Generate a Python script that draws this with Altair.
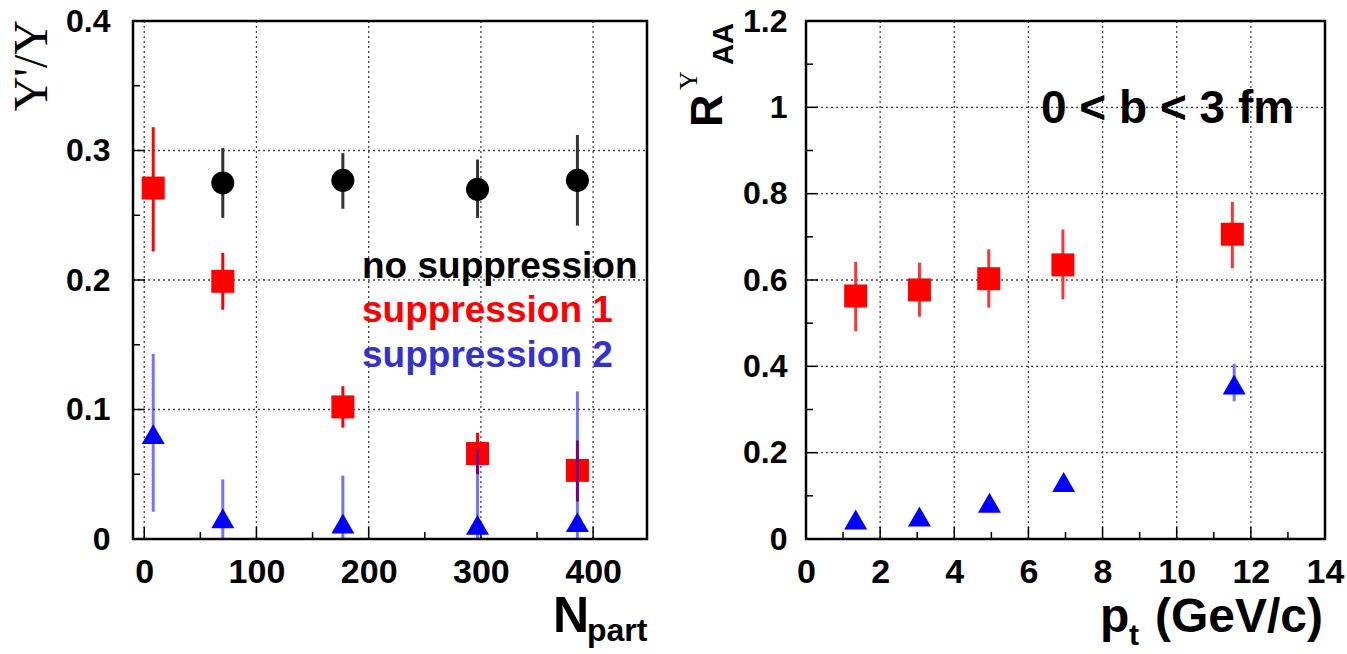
import altair as alt
import pandas as pd

# ---------------- data: left panel (Upsilon'/Upsilon vs N_part) ----------------
npart_black = [70, 177, 297, 386]
ratio_black = [0.275, 0.277, 0.270, 0.277]
ratio_black_lo = [0.248, 0.255, 0.248, 0.242]
ratio_black_hi = [0.302, 0.298, 0.293, 0.312]

npart_red = [8, 70, 177, 297, 386]
ratio_red = [0.271, 0.199, 0.102, 0.066, 0.053]
ratio_red_lo = [0.222, 0.177, 0.086, 0.050, 0.029]
ratio_red_hi = [0.318, 0.221, 0.118, 0.082, 0.076]

npart_blue = [8, 70, 177, 297, 386]
ratio_blue = [0.081, 0.016, 0.012, 0.011, 0.013]
ratio_blue_lo = [0.021, 0.0, 0.0, 0.0, 0.0]
ratio_blue_hi = [0.143, 0.046, 0.049, 0.069, 0.114]

# ---------------- data: right panel (R_AA vs p_t) ----------------
pt_red = [1.34, 3.06, 4.93, 6.93, 11.5]
raa_red = [0.563, 0.577, 0.603, 0.635, 0.706]
raa_red_lo = [0.481, 0.515, 0.536, 0.555, 0.627]
raa_red_hi = [0.642, 0.640, 0.671, 0.717, 0.781]

pt_blue = [1.34, 3.06, 4.95, 6.95, 11.55]
raa_blue = [0.045, 0.052, 0.084, 0.132, 0.358]
raa_blue_lo = [0.040, 0.047, 0.077, 0.122, 0.319]
raa_blue_hi = [0.050, 0.057, 0.091, 0.142, 0.406]

# axis ticks
left_x_major = [0, 100, 200, 300, 400]
left_x_minor = [50, 150, 250, 350]
left_y_major = [0, 0.1, 0.2, 0.3, 0.4]
left_y_minor = [0.05, 0.15, 0.25, 0.35]
right_x_major = [0, 2, 4, 6, 8, 10, 12, 14]
right_x_minor = [1, 3, 5, 7, 9, 11, 13]
right_y_major = [0, 0.2, 0.4, 0.6, 0.8, 1.0, 1.2]
right_y_minor = [0.1, 0.3, 0.5, 0.7, 0.9, 1.1]

# ---------------- layout constants (pixels inside the plot group) ----------------
W, H = 1192, 518
L0, L1 = 0, 514      # left panel x range
R0, R1 = 673, 1192   # right panel x range
FONT = "Liberation Sans"
GRID_DASH = [2, 3]
GRID_COL = "#444444"


def df(x, y, lo, hi):
    return pd.DataFrame({"x": x, "y": y, "lo": lo, "hi": hi})


def vals(v):
    return pd.DataFrame({"v": v})


def make_panel(xs, ys, xax, yax, series, xmaj, xmin_, ymaj, ymin_, p0, p1):
    X = lambda f: alt.X(f, scale=xs, axis=xax)
    Y = lambda f: alt.Y(f, scale=ys, axis=yax)
    layers = []
    # dotted grid
    gx = [v for v in xmaj if xs.domain[0] < v < xs.domain[1]]
    gy = [v for v in ymaj if ys.domain[0] < v < ys.domain[1]]
    layers.append(alt.Chart(vals(gx)).mark_rule(color=GRID_COL, strokeDash=GRID_DASH, strokeWidth=1.3).encode(
        x=X("v:Q"), y=alt.value(0), y2=alt.value(H)))
    layers.append(alt.Chart(vals(gy)).mark_rule(color=GRID_COL, strokeDash=GRID_DASH, strokeWidth=1.3).encode(
        y=Y("v:Q"), x=alt.value(p0), x2=alt.value(p1)))
    # inner ticks
    for arr, ln in ((xmaj, 12), (xmin_, 7)):
        layers.append(alt.Chart(vals(arr)).mark_rule(color="black", strokeWidth=1.5).encode(
            x=X("v:Q"), y=alt.value(H), y2=alt.value(H - ln)))
    for arr, ln in ((ymaj, 12), (ymin_, 7)):
        layers.append(alt.Chart(vals(arr)).mark_rule(color="black", strokeWidth=1.5).encode(
            y=Y("v:Q"), x=alt.value(p0), x2=alt.value(p0 + ln)))
    # data series
    for d, color, bar_color, bar_op, shape in series:
        layers.append(alt.Chart(d).mark_rule(color=bar_color, strokeWidth=3, opacity=bar_op).encode(
            x=X("x:Q"), y=Y("lo:Q"), y2="hi:Q"))
        layers.append(alt.Chart(d).mark_point(shape=shape, filled=True, size=529, opacity=1, color=color).encode(
            x=X("x:Q"), y=Y("y:Q")))
    # frame
    layers.append(alt.Chart().mark_rect(fillOpacity=0, stroke="black", strokeWidth=2.5).encode(
        x=alt.value(p0), x2=alt.value(p1), y=alt.value(0), y2=alt.value(H)))
    return alt.layer(*layers)


axis_common = dict(domain=False, ticks=False, grid=False, title=None, labelFont=FONT,
                   labelFontWeight="bold", labelColor="black", labelFlush=False, labelOverlap=False)

# left panel
xsL = alt.Scale(domain=[-10, 448], range=[L0, L1], nice=False, zero=False)
ysL = alt.Scale(domain=[0, 0.4], range=[H, 0], nice=False, zero=False)
xaxL = alt.Axis(orient="bottom", values=left_x_major, format="d", labelFontSize=34, labelPadding=16, **axis_common)
yaxL = alt.Axis(orient="left", values=left_y_major, format="~g", labelFontSize=32, labelPadding=23, **axis_common)
left = make_panel(
    xsL, ysL, xaxL, yaxL,
    [
        (df(npart_black, ratio_black, ratio_black_lo, ratio_black_hi), "black", "#333333", 1.0, "circle"),
        (df(npart_red, ratio_red, ratio_red_lo, ratio_red_hi), "#ff0000", "#ff0000", 1.0, "square"),
        (df(npart_blue, ratio_blue, ratio_blue_lo, ratio_blue_hi), "#0000ff", "#0000ff", 0.55, "triangle-up"),
    ],
    left_x_major, left_x_minor, left_y_major, left_y_minor, L0, L1)

# right panel
xsR = alt.Scale(domain=[0, 14], range=[R0, R1], nice=False, zero=False)
ysR = alt.Scale(domain=[0, 1.2], range=[H, 0], nice=False, zero=False)
xaxR = alt.Axis(orient="bottom", values=right_x_major, format="d", labelFontSize=34, labelPadding=16, **axis_common)
yaxR = alt.Axis(orient="left", offset=-R0, values=right_y_major, format="~g", labelFontSize=32, labelPadding=19,
                **axis_common)
right = make_panel(
    xsR, ysR, xaxR, yaxR,
    [
        (df(pt_red, raa_red, raa_red_lo, raa_red_hi), "#ff0000", "#ff3333", 1.0, "square"),
        (df(pt_blue, raa_blue, raa_blue_lo, raa_blue_hi), "#0000ff", "#0000ff", 0.55, "triangle-up"),
    ],
    right_x_major, right_x_minor, right_y_major, right_y_minor, R0, R1)


def label(text, x, y, size, color="black", font=FONT, weight="bold", align="left", angle=0):
    kw = dict(text=text, fontSize=size, font=font, fontWeight=weight, color=color,
              align=align, baseline="alphabetic")
    if angle:
        kw["angle"] = angle
    return alt.Chart().mark_text(**kw).encode(x=alt.value(x), y=alt.value(y))


texts = alt.layer(
    # left y title
    label("Υ'/Υ", -86, -1, 48, font="Liberation Serif", weight="normal", align="right", angle=270),
    # left x title
    label("N", 420, 611, 50),
    label("part", 454, 620, 32),
    # right y title
    label("R", 589, 106, 45, angle=270),
    label("Υ", 564, 69, 26, font="Liberation Serif", weight="normal", angle=270),
    label("AA", 600, 44, 29, angle=270),
    # right x title
    label("p", 967, 611, 48),
    label("t", 996, 624, 30),
    label("(GeV/c)", 1190, 611, 48, align="right"),
    # legend text
    label("no suppression", 229, 257, 37),
    label("suppression 1", 229, 300.7, 37, color="#ff0000"),
    label("suppression 2", 229, 345.7, 37, color="#3333cc"),
    # annotation
    label("0 < b < 3 fm", 908, 101.5, 46),
)

chart = alt.layer(left, right, texts).resolve_scale(
    x="independent", y="independent"
).properties(
    width=W, height=H,
    autosize=alt.AutoSizeParams(type="none"),
    padding={"left": 133, "top": 21, "right": 22, "bottom": 115},
    background="white",
).configure_view(stroke=None)

chart.save("out.html", embed_options={"renderer": "svg", "actions": False})
